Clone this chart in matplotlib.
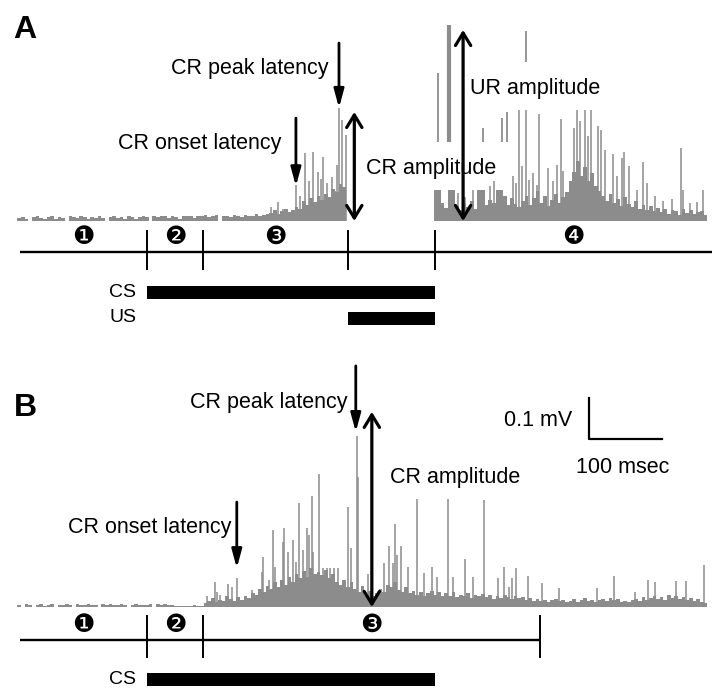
import matplotlib
matplotlib.use('Agg')
import matplotlib.pyplot as plt
import numpy as np

plt.rcParams['font.family'] = ['Liberation Sans', 'DejaVu Sans']

# --- data (time in msec from CS onset, amplitude in microvolts) ---
FLOOR_T0 = -175
FLOOR_STEP = 5

a_floor = [8, 10, 5, 0, 9, 11, 7, 4, 10, 12, 6, 9, 8, 0, 11, 10, 7, 12, 9, 5,
           10, 8, 11, 7, 0, 10, 12, 8, 9, 6, 11, 10, 4, 9, 12,
           10, 0, 12, 9, 11, 13, 7, 12, 10, 5, 11, 13, 12, 8, 12, 11, 14, 9,
           12, 15, 0, 11, 13, 10, 14, 12, 9, 15, 13, 11, 16, 12, 14, 17,
           20, 27, 18, 24, 30, 22, 28,
           35, 29, 49, 40, 56, 46, 61, 52, 66, 58, 78, 70, 90, 82,
           0, 0, 0, 0, 0, 0, 0, 0, 0, 0, 0, 0, 0, 0, 0, 0, 0, 0, 0, 0, 0, 0, 0, 0,
           76, 76, 45, 32, 76, 76,
           37, 28, 44, 35, 49, 30,
           76, 76, 40, 52,
           44, 76, 76, 60, 38, 55,
           42, 34, 49, 61, 40, 55, 73, 44, 61, 37, 52, 66, 45, 58,
           70, 98, 120, 146, 110, 132, 98, 117, 85, 73,
           61, 49, 66, 44, 54, 37, 59, 42, 34, 49, 30, 40, 27, 37, 24, 32,
           22, 30, 18, 27, 24, 15, 29, 20, 26, 17, 22, 25, 14, 0]

a_spike_t = [170, 179, 186, 192, 204, 210, 216, 222, 227, 234, 238, 241, 247,
             253, 258, 260, 263, 267, 273,
             426, 436, 447, 470, 475, 501, 505, 510, 514, 519, 523, 529, 534,
             537, 549, 556, 562, 567, 570, 585, 589, 593, 600, 604, 608, 618,
             622, 627, 638, 644, 651, 653, 660, 671, 679, 685, 696, 707, 719,
             732, 734, 744, 753, 762]
a_spike_v = [34, 46, 29, 24, 88, 61, 166, 98, 168, 120, 102, 156, 93,
             107, 73, 137, 276, 246, 210,
             68, 59, 76, 85, 98, 110, 93, 271, 134, 271, 100, 117, 88,
             261, 129, 98, 137, 249, 122, 227, 271, 244, 271, 207, 271, 232,
             222, 173, 163, 110, 154, 168, 134, 76, 144, 93, 61, 49, 54,
             178, 76, 44, 46, 76]

# clipped (saturated) segments drawn above the UR trace
a_clip_t = [399, 414, 460, 486, 493, 519]
a_clip_lo = [193, 193, 193, 193, 193, 388]
a_clip_hi = [361, 478, 227, 251, 266, 464]

b_floor = [5, 0, 7, 4, 0, 6, 8, 3, 5, 7, 0, 6, 4, 8, 5, 0, 7, 6, 4, 8,
           6, 5, 0, 7, 6, 8, 5, 4, 7, 6, 0, 5, 8, 6, 4,
           6, 8, 0, 7, 5, 7, 6, 4, 3, 3, 3, 3, 3, 4, 3, 3, 10,
           15, 22, 12, 18, 15, 26, 20, 15, 24,
           18, 27, 22, 35, 30, 44, 37, 52, 45, 61, 49, 66, 54, 73, 61, 80,
           70, 88, 73, 95, 80, 85, 78, 90, 70, 80, 61, 54, 66,
           49, 61, 44, 37, 52, 30, 40, 28, 35, 44, 37, 54, 49, 61, 42, 37,
           49, 33, 40, 30, 37, 27, 34, 40, 30, 37, 26, 33, 28, 36, 24, 30,
           27, 34, 22, 29, 26, 31,
           24, 29, 20, 27, 22, 30, 25, 19, 27, 21, 24, 17, 22, 15, 20, 14,
           18, 12, 16, 20, 14, 17, 12, 15, 19, 13, 16, 22, 15, 18, 13, 17,
           20, 14, 22, 16, 19, 13, 15, 11, 17, 20, 15, 24, 18, 22, 27, 20,
           25, 18, 29, 22, 26, 19, 24, 17, 22, 15, 19, 13, 10, 0]

b_spike_t = [82, 93, 96, 100, 111, 116, 123, 144, 157, 159, 167, 173, 175,
             186, 188, 193, 196, 200, 204, 208, 214, 219, 222, 226, 227, 236,
             241, 247, 251, 256, 262, 275, 279, 288, 289, 303, 325, 332, 337,
             340, 342, 348, 358, 370, 379, 390, 397, 412, 419, 436, 447, 462,
             481, 489, 496, 500, 505, 522, 541, 564, 616, 640, 668, 686, 696,
             725, 738, 763]
b_spike_v = [27, 61, 37, 29, 56, 49, 71, 41, 85, 122, 66, 188, 98,
             159, 193, 134, 59, 163, 110, 254, 139, 193, 176, 271, 134, 325,
             95, 95, 95, 95, 95, 244, 144, 417, 317, 81, 107, 149, 107,
             203, 127, 149, 98, 264, 83, 98, 73, 264, 73, 117, 73, 261,
             71, 98, 49, 71, 95, 76, 59, 46, 46, 76, 37, 66, 61,
             63, 63, 102]

# protocol timing (msec)
cs_on, cs_off = 0, 395
us_on, us_off = 275, 395
line_start = -174
a_marks = [0, 77, 275, 395]
a_line_end = 774
a_windows = [(-174, 0), (0, 77), (77, 275), (395, 774)]
b_marks = [0, 77, 538]
b_line_end = 538
b_windows = [(-174, 0), (0, 77), (77, 538)]

# --- layout ---
PX_PER_MS = 0.73
PX_PER_UV = 0.41
W, H = 720, 698
X_CS = 147
GRAY = '#8c8c8c'
TXT = 15.5


def make_axes(top_px, bottom_px, base_px):
    ax = fig.add_axes([0, (H - bottom_px) / H, 1, (bottom_px - top_px) / H])
    ax.set_xlim(-X_CS / PX_PER_MS, (W - X_CS) / PX_PER_MS)
    ax.set_ylim(-(bottom_px - base_px) / PX_PER_UV, (base_px - top_px) / PX_PER_UV)
    ax.axis('off')
    return ax


def uv(px):
    # pixel offset below the baseline expressed in microvolts
    return -px / PX_PER_UV


def draw_trace(ax, floor, sp_t, sp_v):
    t = FLOOR_T0 + FLOOR_STEP * np.arange(len(floor))
    ax.bar(t, floor, width=FLOOR_STEP, color=GRAY, linewidth=0)
    ax.vlines(sp_t, 0, sp_v, color=GRAY, lw=1.1)


def down_arrow(ax, t, tip, tail):
    ax.annotate('', xy=(t, tip), xytext=(t, tail),
                arrowprops=dict(arrowstyle='-|>,head_length=1.1,head_width=0.3',
                                mutation_scale=10, lw=2, color='black',
                                shrinkA=0, shrinkB=0))


def double_arrow(ax, t, lo, hi):
    ax.annotate('', xy=(t, hi), xytext=(t, lo),
                arrowprops=dict(arrowstyle='<->,head_length=0.9,head_width=0.55',
                                mutation_scale=10, lw=2.3, color='black',
                                shrinkA=0, shrinkB=0))


def timeline(ax, marks, end, windows, line_px, tick_top, tick_bot, num_px):
    ax.plot([line_start, end], [uv(line_px)] * 2, color='black', lw=1.7,
            solid_capstyle='butt')
    ax.vlines(marks, uv(tick_bot), uv(tick_top), color='black', lw=1.4)
    for i, (s, e) in enumerate(windows):
        ax.text((s + e) / 2, uv(num_px), chr(0x2776 + i), ha='center',
                va='center', fontsize=18, family=['DejaVu Sans'])


def stim_bar(ax, label, start, stop, center_px):
    ax.barh(uv(center_px), stop - start, left=start, height=13 / PX_PER_UV,
            color='black', linewidth=0)
    ax.text(-15, uv(center_px), label, ha='right', va='center', fontsize=14)


fig = plt.figure(figsize=(W / 100, H / 100), dpi=100)

# ---------------- panel A ----------------
axA = make_axes(0, 340, 221)
draw_trace(axA, a_floor, a_spike_t, a_spike_v)
axA.vlines(a_clip_t, a_clip_lo, a_clip_hi, color=GRAY, lw=[1.3, 3, 1.3, 1.3, 1.3, 1.3])
axA.text(-183, 466, 'A', fontsize=23, fontweight='bold', ha='left', va='center')

down_arrow(axA, 204, 85, 251)
axA.text(184, 190, 'CR onset latency', ha='right', va='center', fontsize=TXT)
down_arrow(axA, 263, 276, 434)
axA.text(248, 371, 'CR peak latency', ha='right', va='center', fontsize=TXT)
double_arrow(axA, 284, 0, 266)
axA.text(300, 129, 'CR amplitude', ha='left', va='center', fontsize=TXT)
double_arrow(axA, 433, 0, 466)
axA.text(442, 324, 'UR amplitude', ha='left', va='center', fontsize=TXT)

timeline(axA, a_marks, a_line_end, a_windows, 31, 9, 49, 16)
stim_bar(axA, 'CS', cs_on, cs_off, 71.5)
stim_bar(axA, 'US', us_on, us_off, 97)

# ---------------- panel B ----------------
axB = make_axes(340, 698, 607)
draw_trace(axB, b_floor, b_spike_t, b_spike_v)
axB.text(-183, 485, 'B', fontsize=23, fontweight='bold', ha='left', va='center')

down_arrow(axB, 123, 95, 256)
axB.text(115, 195, 'CR onset latency', ha='right', va='center', fontsize=TXT)
down_arrow(axB, 286, 427, 588)
axB.text(274, 498, 'CR peak latency', ha='right', va='center', fontsize=TXT)
double_arrow(axB, 308, 0, 476)
axB.text(333, 315, 'CR amplitude', ha='left', va='center', fontsize=TXT)

# scale bar: 100 msec x 0.1 mV
sb_t, sb_v = 605, 410
axB.plot([sb_t, sb_t, sb_t + 100], [sb_v + 100, sb_v, sb_v], color='black', lw=1.6)
axB.text(582, 456, '0.1 mV', ha='right', va='center', fontsize=TXT)
axB.text(652, 341, '100 msec', ha='center', va='center', fontsize=TXT)

timeline(axB, b_marks, b_line_end, b_windows, 33, 8, 51, 18)
stim_bar(axB, 'CS', cs_on, cs_off, 72.5)

fig.savefig('out.png', dpi=100)
